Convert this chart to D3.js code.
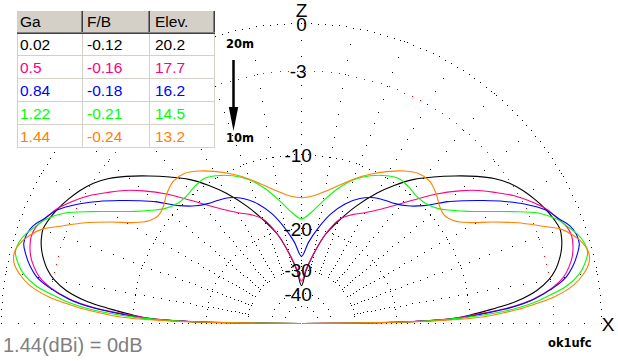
<!DOCTYPE html>
<html><head><meta charset="utf-8">
<script src="https://cdn.jsdelivr.net/npm/d3@7"></script>
<style>html,body{margin:0;padding:0;background:#fff;} svg{display:block;}</style>
</head><body>
<svg id="c" width="618" height="361"></svg>
<script>
// ---- data (elevation angle in degrees, gain in dB relative to 1.44 dBi) ----
const elevations = [0,1,2,3,4,5,6,8,10,12,14,16,18,20,22,25,28,31,34,37,40,44,48,52,56,60,65,70,75,80,85,90];
const gain20m  = [-99,-17,-11.5,-9.8,-8.3,-6.8,-5.6,-4.05,-3.1,-2.5,-2.1,-1.8,-1.6,-1.5,-1.6,-1.85,-2.2,-2.6,-3.1,-3.8,-4.7,-6.0,-7.3,-8.6,-10.2,-12.0,-14.6,-17.5,-20.5,-25,-30,-36];
const gain17m  = [-99,-17.5,-11.5,-9.3,-7.0,-5.5,-4.4,-3.0,-2.1,-1.6,-1.25,-1.05,-0.95,-1.05,-1.35,-1.8,-2.5,-3.3,-4.3,-5.3,-6.5,-8.3,-10.3,-12.1,-13.6,-14.8,-15.9,-17.3,-20.5,-25,-29.5,-34];
const gain15m  = [-99,-17,-11,-8.8,-6.75,-5.3,-4.3,-2.9,-1.9,-1.35,-0.95,-0.65,-0.65,-0.85,-1.3,-1.9,-2.9,-4.1,-5.4,-6.7,-8.0,-9.9,-11.1,-11.8,-12.2,-12.6,-13.5,-14.9,-16.9,-19.6,-22.6,-26];
const gain12m  = [-99,-16.5,-10.8,-7.8,-5.8,-4.5,-3.6,-2.0,-1.1,-0.6,-0.3,-0.35,-0.6,-1.0,-1.4,-2.4,-4.0,-5.6,-7.0,-8.1,-9.0,-9.6,-9.7,-9.5,-9.4,-9.8,-10.6,-11.7,-13.3,-15.3,-17.2,-18.3];
const gain10m  = [-99,-15.5,-9.0,-6.9,-5.2,-4.0,-2.9,-1.55,-0.8,-0.35,-0.25,-0.45,-0.85,-1.45,-2.5,-4.0,-5.7,-7.4,-8.5,-8.95,-8.8,-8.2,-7.8,-7.9,-8.5,-9.3,-10.4,-11.6,-12.9,-14.0,-14.8,-15.1];
const seriesColors = ["#000000","#ff0080","#0000ff","#00ff00","#ff8000"];
const seriesGains = [gain20m, gain17m, gain15m, gain12m, gain10m];

const tableHeader = ["Ga","F/B","Elev."];
const tableGa   = ["0.02","0.5","0.84","1.22","1.44"];
const tableFB   = ["-0.12","-0.16","-0.18","-0.21","-0.24"];
const tableElev = ["20.2","17.7","16.2","14.5","13.2"];

const ringLevels = [0,-3,-10,-20,-30,-40,-50];
const ringLabels = ["0","-3","-10","-20","-30","-40",""];
const radialAngles = d3.range(0,181,10);
const radialDbTicks = d3.range(0,-31,-1);

// ---- layout ----
const svg = d3.select("#c");
const cx = 301.5, cy = 323.5, R = 300;
const FONT = "'Liberation Sans', Arial, sans-serif";
// ARRL-like log scale: radius ~ (power ratio)^(1/4)
const rScale = d3.scalePow().exponent(0.25).domain([0,1]).range([0,R]);
const dbToR = db => rScale(Math.pow(10, db/10));
// screen angle phi: 0 = right horizon (X), 180 = left horizon
const angle = d3.scaleLinear().domain([0,180]).range([Math.PI/2, -Math.PI/2]);
const pt = (phi, r) => [cx + r*Math.sin(angle(phi)), cy - r*Math.cos(angle(phi))];

const grid = svg.append("g").attr("shape-rendering","crispEdges");
function dot(p, color){
  grid.append("rect").attr("x",Math.floor(p[0])).attr("y",Math.floor(p[1]))
    .attr("width",1).attr("height",1).attr("fill",color);
}
// rings
ringLevels.forEach(db => {
  const r = dbToR(db);
  const spacing = db === -3 ? 8.5 : 7;
  const n = Math.max(4, Math.round(Math.PI*r/spacing));
  for (let i=0;i<=n;i++) dot(pt(180*i/n, r), db === -3 ? "#ff0000" : "#000000");
});
// radial lines
radialAngles.forEach(a => {
  radialDbTicks.forEach(db => dot(pt(a, dbToR(db)), "#000000"));
});

// ---- curves ----
const line = d3.lineRadial()
  .angle(d => angle(d.phi))
  .radius(d => dbToR(d.db))
  .curve(d3.curveCatmullRom.alpha(0.5));
const curves = svg.append("g").attr("transform",`translate(${cx},${cy})`);
seriesGains.forEach((gains, si) => {
  const right = elevations.map((e,i) => ({phi:e, db:gains[i]}));
  const left = elevations.slice(0,-1).map((e,i) => ({phi:180-e, db:gains[i]})).reverse();
  curves.append("path").attr("d", line(right.concat(left)))
    .attr("fill","none").attr("stroke",seriesColors[si]).attr("stroke-width",1.1);
});

// ---- ring labels ----
const labels = svg.append("g").attr("font-family",FONT).attr("font-size",19).attr("fill","#000");
ringLevels.forEach((db,i) => {
  if (!ringLabels[i]) return;
  const y = cy - dbToR(db) + 7;
  labels.append("text").attr("x", cx + (ringLabels[i].startsWith("-") ? -3.3 : 0)).attr("y", y)
    .attr("text-anchor","middle").text(ringLabels[i]);
});
labels.append("text").attr("x",cx).attr("y",16.5).attr("text-anchor","middle").text("Z");
labels.append("text").attr("x",608).attr("y",331).attr("text-anchor","middle").text("X");

// ---- bottom texts ----
svg.append("text").attr("x",3).attr("y",352).attr("font-family",FONT).attr("font-size",20)
  .attr("fill","#808080").text("1.44(dBi) = 0dB");
svg.append("text").attr("x",548).attr("y",346.5).attr("font-family","'DejaVu Sans', Verdana, sans-serif")
  .attr("font-weight","bold").attr("font-size",11.5).attr("fill","#000").text("ok1ufc");

// ---- band arrow ----
const arr = svg.append("g");
arr.append("text").attr("x",226).attr("y",48.3).attr("font-family","'DejaVu Sans', Verdana, sans-serif")
  .attr("font-weight","bold").attr("font-size",11.5).text("20m");
arr.append("text").attr("x",226).attr("y",141.7).attr("font-family","'DejaVu Sans', Verdana, sans-serif")
  .attr("font-weight","bold").attr("font-size",11.5).text("10m");
arr.append("line").attr("x1",233.5).attr("x2",233.5).attr("y1",60).attr("y2",112)
  .attr("stroke","#000").attr("stroke-width",2.5);
arr.append("path").attr("d","M228.8,107 L238.2,107 L233.5,131 Z").attr("fill","#000");

// ---- table ----
const tb = svg.append("g").attr("shape-rendering","crispEdges");
const tx0 = 17, tx1 = 215, ty0 = 11, hy = 33, rowH = 23;
tb.append("rect").attr("x",tx0).attr("y",hy).attr("width",tx1-tx0).attr("height",rowH*5).attr("fill","#fff");
tb.append("rect").attr("x",tx0).attr("y",ty0).attr("width",tx1-tx0).attr("height",hy-ty0).attr("fill","#d4d0c8");
for (let i=1;i<=5;i++) tb.append("rect").attr("x",tx0).attr("y",hy+rowH*i-1).attr("width",tx1-tx0).attr("height",1).attr("fill","#d4d0c8");
[tx0, 82, 149, 214].forEach(x => tb.append("rect").attr("x",x).attr("y",hy).attr("width",1).attr("height",rowH*5).attr("fill","#d4d0c8"));
[81, 148, 213].forEach(x => {
  tb.append("rect").attr("x",x).attr("y",ty0).attr("width",1).attr("height",hy-ty0).attr("fill","#808080");
  tb.append("rect").attr("x",x+1).attr("y",ty0).attr("width",1).attr("height",hy-ty0).attr("fill","#404040");
});
tb.append("rect").attr("x",tx0).attr("y",hy-1).attr("width",tx1-tx0).attr("height",1).attr("fill","#808080");
tb.append("rect").attr("x",tx0).attr("y",hy).attr("width",tx1-tx0).attr("height",1).attr("fill","#404040");

const tt = svg.append("g").attr("font-family",FONT).attr("font-size",15.5);
const textX = [20, 87, 155];
tableHeader.forEach((h,j) => tt.append("text").attr("x",textX[j]).attr("y",27.3).attr("fill","#000").text(h));
[tableGa, tableFB, tableElev].forEach((col,j) => {
  col.forEach((v,i) => tt.append("text").attr("x",textX[j]).attr("y",50+rowH*i).attr("fill",seriesColors[i]).text(v));
});
</script>
</body></html>
